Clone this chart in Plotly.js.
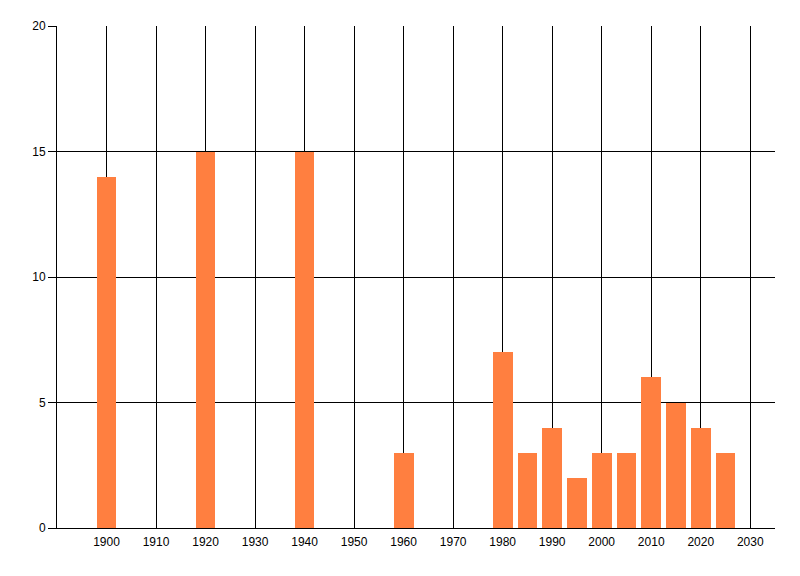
<!DOCTYPE html>
<html>
<head>
<meta charset="utf-8">
<script src="https://cdn.plot.ly/plotly-3.0.1.min.js"></script>
<style>html,body{margin:0;padding:0;background:#fff;}#chart{width:800px;height:576px;}</style>
</head>
<body>
<div id="chart"></div>
<script>
var years = [1900, 1920, 1940, 1960, 1980, 1985, 1990, 1995, 2000, 2005, 2010, 2015, 2020, 2025];
var counts = [14, 15, 15, 3, 7, 3, 4, 2, 3, 3, 6, 5, 4, 3];
var xTicks = [1900, 1910, 1920, 1930, 1940, 1950, 1960, 1970, 1980, 1990, 2000, 2010, 2020, 2030];
var yTicks = [0, 5, 10, 15, 20];

var trace = {
  type: 'bar',
  x: years,
  y: counts,
  width: 4,
  marker: {color: '#FF7F40', line: {width: 0}},
  hoverinfo: 'none'
};

var layout = {
  width: 800,
  height: 576,
  margin: {l: 57, r: 25, t: 26, b: 48, pad: 0},
  paper_bgcolor: '#ffffff',
  plot_bgcolor: '#ffffff',
  showlegend: false,
  font: {family: 'Liberation Sans, Arial, sans-serif', size: 12, color: '#000'},
  xaxis: {
    range: [1890, 2035],
    tickmode: 'array',
    tickvals: xTicks,
    ticktext: xTicks.map(String),
    showgrid: true,
    gridcolor: '#000',
    gridwidth: 1,
    zeroline: false,
    showline: true,
    linecolor: '#000',
    linewidth: 1,
    ticks: 'outside',
    ticklen: 3,
    tickcolor: 'rgba(0,0,0,0)',
    tickfont: {size: 12, color: '#000'}
  },
  yaxis: {
    range: [0, 20],
    tickmode: 'array',
    tickvals: yTicks,
    ticktext: yTicks.map(String),
    showgrid: true,
    gridcolor: '#000',
    gridwidth: 1,
    zeroline: false,
    showline: true,
    linecolor: '#000',
    linewidth: 1,
    ticks: 'outside',
    ticklen: 8,
    tickcolor: '#000',
    tickwidth: 1,
    tickfont: {size: 12, color: '#000'}
  },
  bargap: 0
};

Plotly.newPlot('chart', [trace], layout, {displayModeBar: false, staticPlot: true});
</script>
</body>
</html>
